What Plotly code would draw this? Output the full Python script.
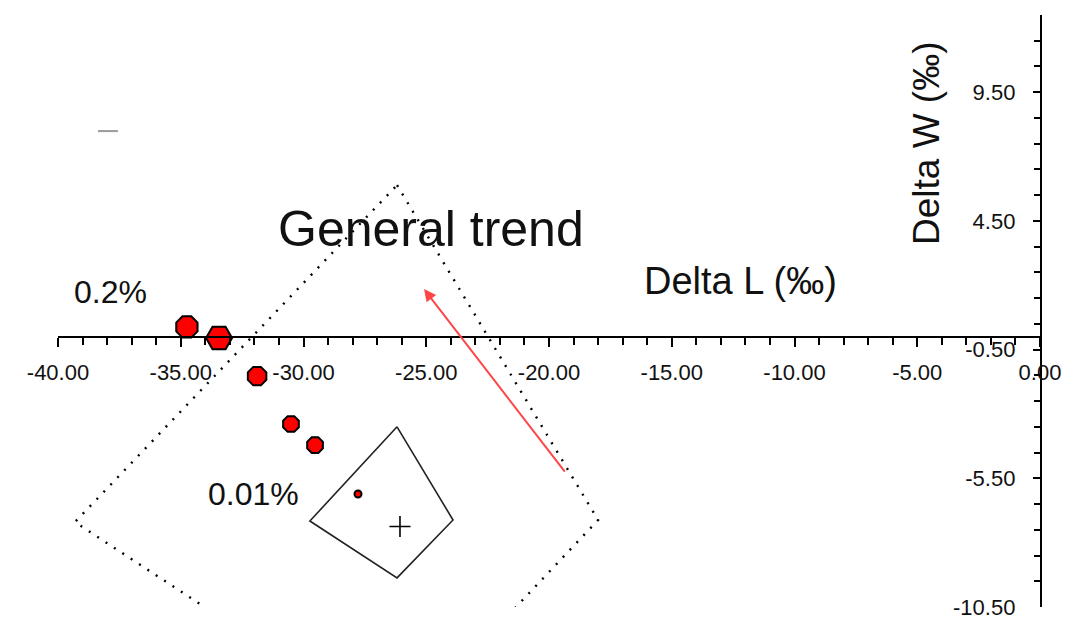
import plotly.graph_objects as go

# ---- data ----
sample_dL = [-34.75, -33.44, -31.89, -30.51, -29.53, -27.78]
sample_dW = [0.38, -0.05, -1.53, -3.39, -4.21, -6.11]

inner_region_dL = [-26.19, -23.91, -26.19, -29.74, -26.19]
inner_region_dW = [-3.50, -7.12, -9.37, -7.16, -3.50]

outer_region_dL = [-26.19, -18.00, -26.19, -39.31, -26.19]
outer_region_dW = [5.89, -7.12, -15.40, -7.20, 5.89]

target_dL = [-26.07]
target_dW = [-7.37]

trend_start = [-19.31, -5.30]
trend_end = [-25.09, 1.85]

stray_dL = [-38.37, -37.56]
stray_dW = [7.99, 7.99]

x_ticks = [-40, -35, -30, -25, -20, -15, -10, -5, 0]
y_ticks = [-10.5, -5.5, -0.5, 4.5, 9.5]
x_range = [-40, 0]
y_range = [-10.5, 12.5]

labels = ["General trend", "Delta L (‰)", "Delta W (‰)", "0.2%", "0.01%"]
label_x = [-24.81, -12.2, -4.6, -37.88, -32.02]
label_y = [4.2, 2.16, 7.53, 1.74, -6.11]

# ---- styles ----
marker_sizes = [23, 26, 20, 17, 17, 7]
marker_symbols = ["octagon", "hexagon2", "octagon", "octagon", "octagon", "circle"]
label_sizes = [50, 38, 37, 32, 32]
label_angles = [0, 0, -90, 0, 0]
FONT = "Liberation Sans, Arial, sans-serif"

fig = go.Figure()

fig.add_trace(go.Scatter(
    x=outer_region_dL, y=outer_region_dW, mode="lines",
    line=dict(color="black", width=2.4, dash="2px,8px"),
    hoverinfo="skip", showlegend=False))

fig.add_trace(go.Scatter(
    x=inner_region_dL, y=inner_region_dW, mode="lines",
    line=dict(color="#222222", width=1.6),
    hoverinfo="skip", showlegend=False))

fig.add_trace(go.Scatter(
    x=target_dL, y=target_dW, mode="markers",
    marker=dict(symbol="cross-thin", size=15, line=dict(color="black", width=1.6)),
    showlegend=False))

fig.add_trace(go.Scatter(
    x=stray_dL, y=stray_dW, mode="lines",
    line=dict(color="#9a9a9a", width=2),
    hoverinfo="skip", showlegend=False))

fig.add_trace(go.Scatter(
    x=sample_dL, y=sample_dW, mode="markers",
    marker=dict(color="#ff0000", size=marker_sizes, symbol=marker_symbols,
                opacity=1, line=dict(color="black", width=2)),
    showlegend=False, cliponaxis=False))

fig.add_annotation(
    x=trend_end[0], y=trend_end[1], ax=trend_start[0], ay=trend_start[1],
    xref="x", yref="y", axref="x", ayref="y", text="",
    showarrow=True, arrowhead=2, arrowsize=1.2, arrowwidth=2,
    arrowcolor="#ff4646")

for t, xx, yy, s, a in zip(labels, label_x, label_y, label_sizes, label_angles):
    fig.add_annotation(x=xx, y=yy, xref="x", yref="y", text=t, showarrow=False,
                       textangle=a, font=dict(family=FONT, size=s, color="#111111"),
                       xanchor="center", yanchor="middle")

x_axis_pos = (0 - y_range[0]) / (y_range[1] - y_range[0])

fig.update_layout(
    width=1074, height=623,
    margin=dict(l=58, r=34, t=15, b=16, autoexpand=False),
    plot_bgcolor="white", paper_bgcolor="white",
    showlegend=False,
    xaxis=dict(
        range=x_range, anchor="free", position=x_axis_pos, automargin=False,
        showgrid=False, zeroline=False,
        showline=True, linecolor="black", linewidth=2,
        tickmode="array", tickvals=x_ticks,
        ticktext=[f"{v:.2f}" for v in x_ticks],
        ticks="outside", ticklen=9, tickwidth=1.6, tickcolor="black",
        minor=dict(dtick=1, tick0=0, ticks="outside", ticklen=7, tickwidth=1.6, tickcolor="black"),
        ticklabelstandoff=7, ticklabeloverflow="allow",
        tickfont=dict(family=FONT, size=22, color="#111111"),
    ),
    yaxis=dict(
        range=y_range, side="right", anchor="x", automargin=False,
        showgrid=False, zeroline=False,
        showline=True, linecolor="black", linewidth=2,
        tickmode="array", tickvals=y_ticks,
        ticktext=[f"{v:.2f}" for v in y_ticks],
        ticks="inside", ticklen=7, tickwidth=1.6, tickcolor="black",
        minor=dict(dtick=1, tick0=0.5, ticks="inside", ticklen=6, tickwidth=1.6, tickcolor="black"),
        ticklabelposition="inside", ticklabeloverflow="allow",
        ticklabelstandoff=19,
        tickfont=dict(family=FONT, size=22, color="#111111"),
    ),
)

fig.write_html(
    "out.html",
    config={"displayModeBar": False},
    post_script="document.body.style.margin='0';document.body.style.overflow='hidden';",
)
